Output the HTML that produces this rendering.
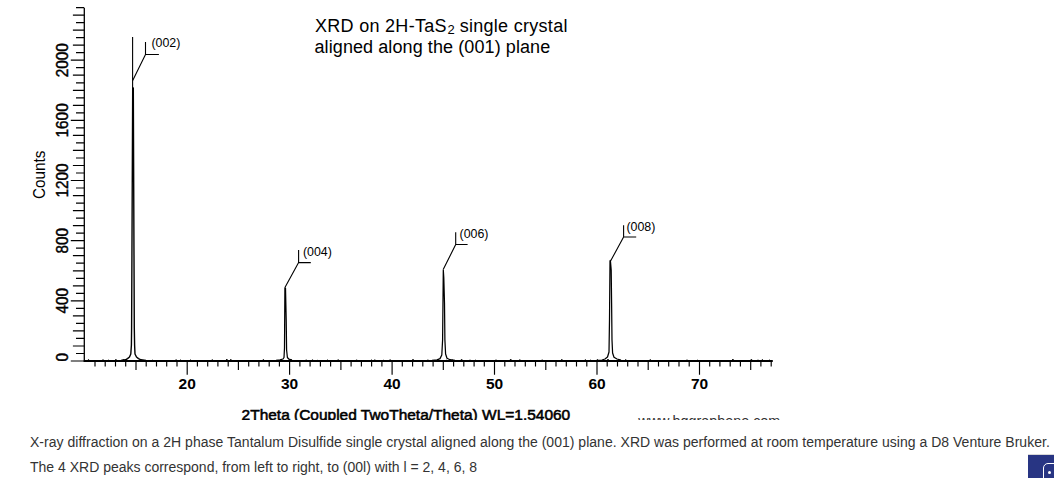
<!DOCTYPE html>
<html><head><meta charset="utf-8"><style>
html,body{margin:0;padding:0;background:#fff;width:1054px;height:478px;overflow:hidden;position:relative}
svg{position:absolute;left:0;top:0}
.t{position:absolute;font-family:"Liberation Sans",sans-serif;white-space:nowrap}
.cap{font-size:14px;color:#333;line-height:16px;letter-spacing:0.02px}
.btn{position:absolute;left:1028px;top:454px;width:40px;height:40px;background:#283583;border-top:1px solid #d8d8d8}
.btn i{position:absolute;left:15px;top:8px;width:20px;height:20px;border:1.5px solid #fff;border-radius:5px}
.btn b{position:absolute;left:20px;top:16px;width:3px;height:3px;border-radius:50%;background:#fff}
</style></head><body>
<svg width="1054" height="420" viewBox="0 0 1054 420">
<path d="M84.3 8V362.0" fill="none" stroke="#000" stroke-width="1.3"/>
<path d="M83.8 360.95H772.8" fill="none" stroke="#000" stroke-width="1.85"/>
<path d="M70.8 361.0H84.3M76.0 353.5H84.3M72.9 346.0H84.3M76.0 338.4H84.3M72.9 330.9H84.3M76.0 323.4H84.3M72.9 315.9H84.3M76.0 308.4H84.3M70.8 300.8H84.3M76.0 293.3H84.3M72.9 285.8H84.3M76.0 278.3H84.3M72.9 270.8H84.3M76.0 263.2H84.3M72.9 255.7H84.3M76.0 248.2H84.3M70.8 240.7H84.3M76.0 233.2H84.3M72.9 225.6H84.3M76.0 218.1H84.3M72.9 210.6H84.3M76.0 203.1H84.3M72.9 195.6H84.3M76.0 188.0H84.3M70.8 180.5H84.3M76.0 173.0H84.3M72.9 165.5H84.3M76.0 158.0H84.3M72.9 150.4H84.3M76.0 142.9H84.3M72.9 135.4H84.3M76.0 127.9H84.3M70.8 120.4H84.3M76.0 112.8H84.3M72.9 105.3H84.3M76.0 97.8H84.3M72.9 90.3H84.3M76.0 82.8H84.3M72.9 75.2H84.3M76.0 67.7H84.3M70.8 60.2H84.3M76.0 52.7H84.3M72.9 45.2H84.3M76.0 37.6H84.3M72.9 30.1H84.3M76.0 22.6H84.3M72.9 15.1H84.3M76.0 7.6H84.3" stroke="#000" stroke-width="1.2"/>
<path d="M95.0 361.0V366.6M105.2 361.0V366.6M115.5 361.0V366.6M125.7 361.0V366.6M136.0 361.0V370.0M146.2 361.0V366.6M156.5 361.0V366.6M166.7 361.0V366.6M177.0 361.0V366.6M187.2 361.0V374.8M197.4 361.0V366.6M207.7 361.0V366.6M217.9 361.0V366.6M228.2 361.0V366.6M238.4 361.0V370.0M248.7 361.0V366.6M258.9 361.0V366.6M269.2 361.0V366.6M279.4 361.0V366.6M289.6 361.0V374.8M299.9 361.0V366.6M310.1 361.0V366.6M320.4 361.0V366.6M330.6 361.0V366.6M340.9 361.0V370.0M351.1 361.0V366.6M361.4 361.0V366.6M371.6 361.0V366.6M381.9 361.0V366.6M392.1 361.0V374.8M402.3 361.0V366.6M412.6 361.0V366.6M422.8 361.0V366.6M433.1 361.0V366.6M443.3 361.0V370.0M453.6 361.0V366.6M463.8 361.0V366.6M474.1 361.0V366.6M484.3 361.0V366.6M494.5 361.0V374.8M504.8 361.0V366.6M515.0 361.0V366.6M525.3 361.0V366.6M535.5 361.0V366.6M545.8 361.0V370.0M556.0 361.0V366.6M566.3 361.0V366.6M576.5 361.0V366.6M586.8 361.0V366.6M597.0 361.0V374.8M607.2 361.0V366.6M617.5 361.0V366.6M627.7 361.0V366.6M638.0 361.0V366.6M648.2 361.0V370.0M658.5 361.0V366.6M668.7 361.0V366.6M679.0 361.0V366.6M689.2 361.0V366.6M699.5 361.0V374.8M709.7 361.0V366.6M719.9 361.0V366.6M730.2 361.0V366.6M740.4 361.0V366.6M750.7 361.0V370.0M760.9 361.0V366.6M771.2 361.0V366.6" stroke="#000" stroke-width="1.15"/>
<g font-family="'Liberation Sans', sans-serif" font-weight="bold" font-size="15.5"><text x="187.2" y="388.6" text-anchor="middle">20</text><text x="289.6" y="388.6" text-anchor="middle">30</text><text x="392.1" y="388.6" text-anchor="middle">40</text><text x="494.5" y="388.6" text-anchor="middle">50</text><text x="597.0" y="388.6" text-anchor="middle">60</text><text x="699.5" y="388.6" text-anchor="middle">70</text></g>
<g font-family="'Liberation Sans', sans-serif" font-size="16.5" stroke="#000" stroke-width="0.45"><text transform="translate(67.8 357.2) rotate(-90) scale(0.93 1)" text-anchor="middle">0</text><text transform="translate(67.8 300.8) rotate(-90) scale(0.93 1)" text-anchor="middle">400</text><text transform="translate(67.8 240.7) rotate(-90) scale(0.93 1)" text-anchor="middle">800</text><text transform="translate(67.8 180.5) rotate(-90) scale(0.93 1)" text-anchor="middle">1200</text><text transform="translate(67.8 120.4) rotate(-90) scale(0.93 1)" text-anchor="middle">1600</text><text transform="translate(67.8 60.2) rotate(-90) scale(0.93 1)" text-anchor="middle">2000</text></g>
<text transform="translate(44.9 174.8) rotate(-90) scale(0.98 1)" text-anchor="middle" font-family="'Liberation Sans', sans-serif" font-size="15.6">Counts</text>
<path d="M87.3 360.95L88.5 359.4L89.7 360.95M101.8 360.95L103.0 359.5L104.2 360.95M107.3 360.95L108.5 360.1L109.7 360.95M114.7 360.95L115.9 359.2L117.1 360.95M122.1 360.95L123.3 359.4L124.5 360.95M151.6 360.95L152.8 360.0L154.0 360.95M174.9 360.95L176.1 359.5L177.3 360.95M179.2 360.95L180.4 359.9L181.6 360.95M189.5 360.95L190.7 359.8L191.9 360.95M211.1 360.95L212.3 359.5L213.5 360.95M225.6 360.95L226.8 359.0L228.0 360.95M229.6 360.95L230.8 359.2L232.0 360.95M262.2 360.95L263.4 359.3L264.6 360.95M289.8 360.95L291.0 359.3L292.2 360.95M305.0 360.95L306.2 359.7L307.4 360.95M311.3 360.95L312.5 359.6L313.7 360.95M315.9 360.95L317.1 360.1L318.3 360.95M326.2 360.95L327.4 359.9L328.6 360.95M337.0 360.95L338.2 359.5L339.4 360.95M355.4 360.95L356.6 359.7L357.8 360.95M370.2 360.95L371.4 359.9L372.6 360.95M373.6 360.95L374.8 359.6L376.0 360.95M382.6 360.95L383.8 360.1L385.0 360.95M388.9 360.95L390.1 359.5L391.3 360.95M411.8 360.95L413.0 359.1L414.2 360.95M426.7 360.95L427.9 359.7L429.1 360.95M437.3 360.95L438.5 359.9L439.7 360.95M445.0 360.95L446.2 360.1L447.4 360.95M451.3 360.95L452.5 360.0L453.7 360.95M460.4 360.95L461.6 359.1L462.8 360.95M468.8 360.95L470.0 359.8L471.2 360.95M474.6 360.95L475.8 360.0L477.0 360.95M494.8 360.95L496.0 359.7L497.2 360.95M509.5 360.95L510.7 359.0L511.9 360.95M518.6 360.95L519.8 359.5L521.0 360.95M541.0 360.95L542.2 359.7L543.4 360.95M560.6 360.95L561.8 359.2L563.0 360.95M584.2 360.95L585.4 359.5L586.6 360.95M589.4 360.95L590.6 360.1L591.8 360.95M596.2 360.95L597.4 359.3L598.6 360.95M606.8 360.95L608.0 359.0L609.2 360.95M618.2 360.95L619.4 359.9L620.6 360.95M624.5 360.95L625.7 359.4L626.9 360.95M649.1 360.95L650.3 359.4L651.5 360.95M685.8 360.95L687.0 359.7L688.2 360.95M696.0 360.95L697.2 360.0L698.4 360.95M731.7 360.95L732.9 359.0L734.1 360.95M750.2 360.95L751.4 359.1L752.6 360.95M756.8 360.95L758.0 359.8L759.2 360.95M761.2 360.95L762.4 359.4L763.6 360.95M768.2 360.95L769.4 360.0L770.6 360.95" fill="none" stroke="#000" stroke-width="0.9"/>
<path d="M121 360.5 125.5 359.8 127.5 358.6 129.5 357 130.8 354 131.4 345 131.6 328 132.7 88 133.3 88 134.3 328 134.6 345 135 354 136.5 357 138.5 358.6 141 359.8 146 360.5" fill="none" stroke="#000" stroke-width="1.4" stroke-linejoin="round"/>
<path d="M276 360.4 280 359.8 283 359 284 357.5 284.5 348 284.9 288 285.5 288 286.2 320 286.6 350 287.4 357.5 289 359.2 292 360.2" fill="none" stroke="#000" stroke-width="1.25" stroke-linejoin="round"/>
<path d="M432 360.4 437 359.8 440 358.6 441.8 355 442.6 340 443.0 300 443.3 270 443.8 278 444.5 303 444.9 340 445.6 354 447 358.3 450 359.7 455 360.4" fill="none" stroke="#000" stroke-width="1.25" stroke-linejoin="round"/>
<path d="M598 360.4 602 360 605 359 607.5 357 609 352 609.5 320 610 261 610.4 260.5 611.2 270 611.6 303 612 340 612.6 353 614 357.3 617 359 621 360.2" fill="none" stroke="#000" stroke-width="1.25" stroke-linejoin="round"/>
<path d="M132.6 37V90" stroke="#000" stroke-width="1.1"/>
<path d="M132.7 80.5L145.5 54.5M145.5 42V54.5H158.9M284.8 287.7L298.6 262.6M298.6 250V262.6H310.8M443.2 269.6L455.7 244.5M455.7 232.3V244.5H467.6M610.7 260.8L623.6 237M623.6 225.3V237H636.2" fill="none" stroke="#000" stroke-width="1.1"/>
<g font-family="'Liberation Sans', sans-serif" font-size="12.4"><text x="151.4" y="47.0">(002)</text><text x="302.9" y="256.4">(004)</text><text x="459.5" y="238.3">(006)</text><text x="626.4" y="231.4">(008)</text></g>
<text x="315" y="31.8" font-family="'Liberation Sans', sans-serif" font-size="18" letter-spacing="0.29">XRD on 2H-TaS<tspan font-size="13" dx="0.6" dy="2.6">2</tspan><tspan dx="-0.6" dy="-2.6"> single crystal</tspan></text>
<text x="314.5" y="53.1" font-family="'Liberation Sans', sans-serif" font-size="18" letter-spacing="0.09">aligned along the (001) plane</text>
<text x="241.6" y="419.6" font-family="'Liberation Sans', sans-serif" font-size="15.2" stroke="#000" stroke-width="0.55" textLength="328.6" lengthAdjust="spacingAndGlyphs">2Theta (Coupled TwoTheta/Theta) WL=1.54060</text>
<text x="638.3" y="425.5" font-family="'Liberation Sans', sans-serif" font-size="14.3" fill="#333" textLength="142" lengthAdjust="spacingAndGlyphs">www.hqgraphene.com</text>
</svg>
<div class="t cap" style="left:30px;top:434px">X-ray diffraction on a 2H phase Tantalum Disulfide single crystal aligned along the (001) plane. XRD was performed at room temperature using a D8 Venture Bruker.</div>
<div class="t cap" style="left:30px;top:459px;letter-spacing:0">The 4 XRD peaks correspond, from left to right, to (00l) with l = 2, 4, 6, 8</div>
<div class="btn"><i></i><b></b></div>
</body></html>
